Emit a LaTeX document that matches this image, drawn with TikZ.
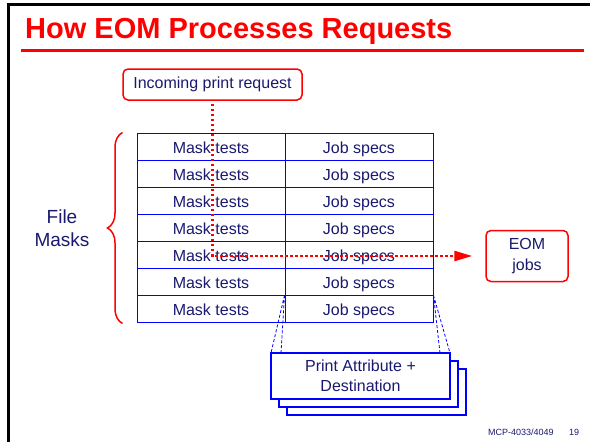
\documentclass[tikz,border=0pt]{standalone}
\usepackage{fontspec}
\setmainfont{Liberation Sans}
\usetikzlibrary{decorations.pathreplacing,arrows.meta,calc}
\definecolor{eomred}{RGB}{255,0,0}
\definecolor{eomblue}{RGB}{0,0,255}
\definecolor{eomtext}{RGB}{25,25,112}

\begin{document}
\begin{tikzpicture}[x=1pt,y=-1pt,
    txt/.style={text=eomtext,font=\fontsize{16}{20}\selectfont},
    cell/.style={txt,draw=eomblue,line width=1pt,minimum width=148pt,minimum height=27.14pt,inner sep=0pt,
        text height=13pt,text depth=0pt},
    redbox/.style={txt,draw=eomred,line width=1.5pt,rounded corners=5pt,inner sep=0pt,align=center},
    pabox/.style={txt,draw=eomblue,fill=white,line width=2pt,minimum width=179pt,minimum height=46pt,inner sep=0pt,align=center}]

    \useasboundingbox (0,0) rectangle (590,442);

    % frame and title
    \draw[line width=2.4pt] (8.5,442) -- (8.5,4.5) -- (590,4.5);
    \node[anchor=base west,inner sep=0pt,text=eomred,font=\fontsize{29}{34}\selectfont\bfseries] (title) at (25,38) {How EOM Processes Requests};
    \draw[eomred,line width=3pt] (21,50) -- (584,50);

    % the mask table
    \foreach \i in {1,...,7} {
        \node[cell] (m\i) at (211,{133+27.14*(\i-0.5)}) {Mask tests};
        \node[cell] (j\i) at (359,{133+27.14*(\i-0.5)}) {Job specs};
    }

    \draw[eomred,line width=1.5pt,decorate,decoration={brace,amplitude=15pt}]
        ($(m7.south west)+(-14,0)$) -- ($(m1.north west)+(-14,0)$);
    \node[txt,font=\fontsize{19}{23}\selectfont,align=center] (fm) at (62,228) {File\\Masks};

    \node[redbox,minimum width=179pt,minimum height=31pt] (in) at (212.5,84.5) {Incoming print request};
    \node[redbox,minimum width=82pt,minimum height=51pt,font=\fontsize{16}{21}\selectfont] (eom) at (527,256) {EOM\\jobs};

    % callout to the attribute cards
    \draw[eomblue,line width=0.8pt,dash pattern=on 3pt off 2pt]
        (j7.north west) -- (271,353) (j7.north west) -- (281,353)
        (j7.north east) -- (450,353) (j7.north east) -- (440,353);
    \node[pabox] (pa3) at (376.5,392) {};
    \node[pabox] (pa2) at (368.5,384) {};
    \node[pabox] (pa) at (360.5,376) {Print Attribute +\\Destination};

    % request path
    \draw[eomred,line width=2.5pt,dash pattern=on 2.5pt off 2.5pt,shorten <=3pt,shorten >=13pt,
        -{Triangle[length=18pt,width=10pt]}] (in.south) -- (in.south |- eom.west) -- (eom.west);

    % footer
    \node[anchor=base west,inner sep=0pt,text=eomtext,font=\fontsize{9}{11}\selectfont] (ref) at (488,435) {MCP-4033/4049};
    \node[anchor=base west,inner sep=0pt,text=eomtext,font=\fontsize{9}{11}\selectfont] (pg) at (569,435) {19};
\end{tikzpicture}
\end{document}
